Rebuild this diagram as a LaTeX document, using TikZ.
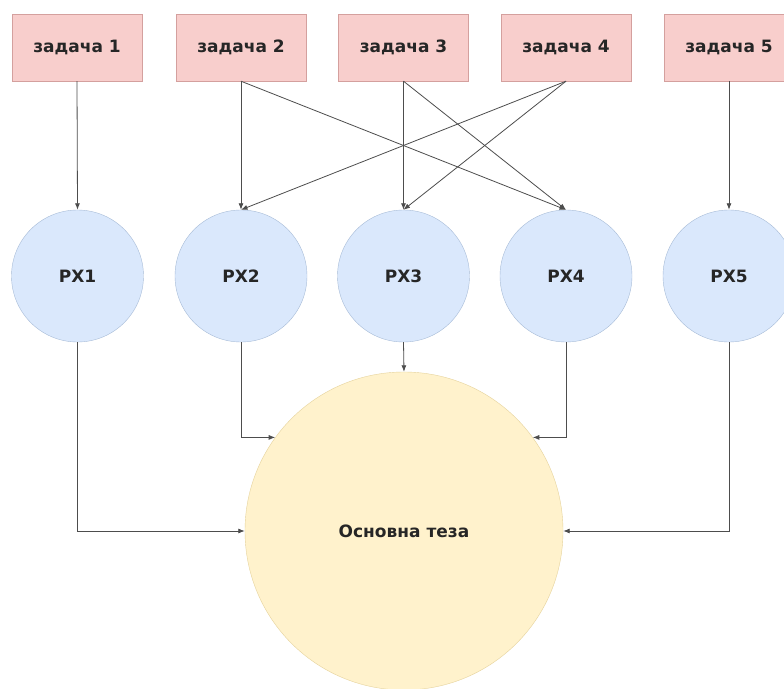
\documentclass[tikz,border=0pt]{standalone}
\usepackage{fontspec}
\setmainfont{DejaVu Sans}
\usetikzlibrary{arrows.meta,calc}
\definecolor{taskfill}{HTML}{F8CECC}
\definecolor{taskline}{HTML}{D4A09E}
\definecolor{hypfill}{HTML}{DAE8FC}
\definecolor{hypline}{HTML}{A8BCD8}
\definecolor{thesfill}{HTML}{FFF2CC}
\definecolor{thesline}{HTML}{E6D39C}
\definecolor{edgecol}{HTML}{4D4D4D}
\begin{document}
\begin{tikzpicture}[x=1pt,y=-1pt,
  lbl/.style={font=\bfseries\fontsize{17}{20}\selectfont, text=black!85},
  task/.style={lbl,draw=taskline,fill=taskfill,minimum width=130pt,minimum height=67pt,inner sep=0pt},
  hyp/.style={lbl,circle,draw=hypline,fill=hypfill,minimum size=132pt,inner sep=0pt},
  thesis/.style={lbl,circle,draw=thesline,fill=thesfill,minimum size=318pt,inner sep=0pt},
  arr/.style={draw=edgecol,line width=0.8pt,-{Latex[length=6.5pt,width=5pt]}}]
\clip (0,0) rectangle (784,688);
\fill[white] (0,0) rectangle (784,688);

\node[task] (t1) at (77,47.5) {задача 1};
\node[task] (t2) at (241,47.5) {задача 2};
\node[task] (t3) at (403.5,47.5) {задача 3};
\node[task] (t4) at (566,47.5) {задача 4};
\node[task] (t5) at (729,47.5) {задача 5};

\node[hyp] (h1) at (77.5,276) {РХ1};
\node[hyp] (h2) at (241,276) {РХ2};
\node[hyp] (h3) at (403.5,276) {РХ3};
\node[hyp] (h4) at (566,276) {РХ4};
\node[hyp] (h5) at (729,276) {РХ5};

\node[thesis] (main) at (404,531) {Основна теза};

\draw[arr] (t1.south) -- (h1.north);
\draw[arr] (t2.south) -- (h2.north);
\draw[arr] (t2.south) -- (h4.north);
\draw[arr] (t3.south) -- (h3.north);
\draw[arr] (t3.south) -- (h4.north);
\draw[arr] (t4.south) -- (h2.north);
\draw[arr] (t4.south) -- (h3.north);
\draw[arr] (t5.south) -- (h5.north);

\draw[arr] (h1.south) |- (main.west);
\draw[arr] (h2.south) |- (main.144);
\draw[arr] (h3.south) -- (main.north);
\draw[arr] (h4.south) |- (main.36);
\draw[arr] (h5.south) |- (main.east);
\end{tikzpicture}
\end{document}
